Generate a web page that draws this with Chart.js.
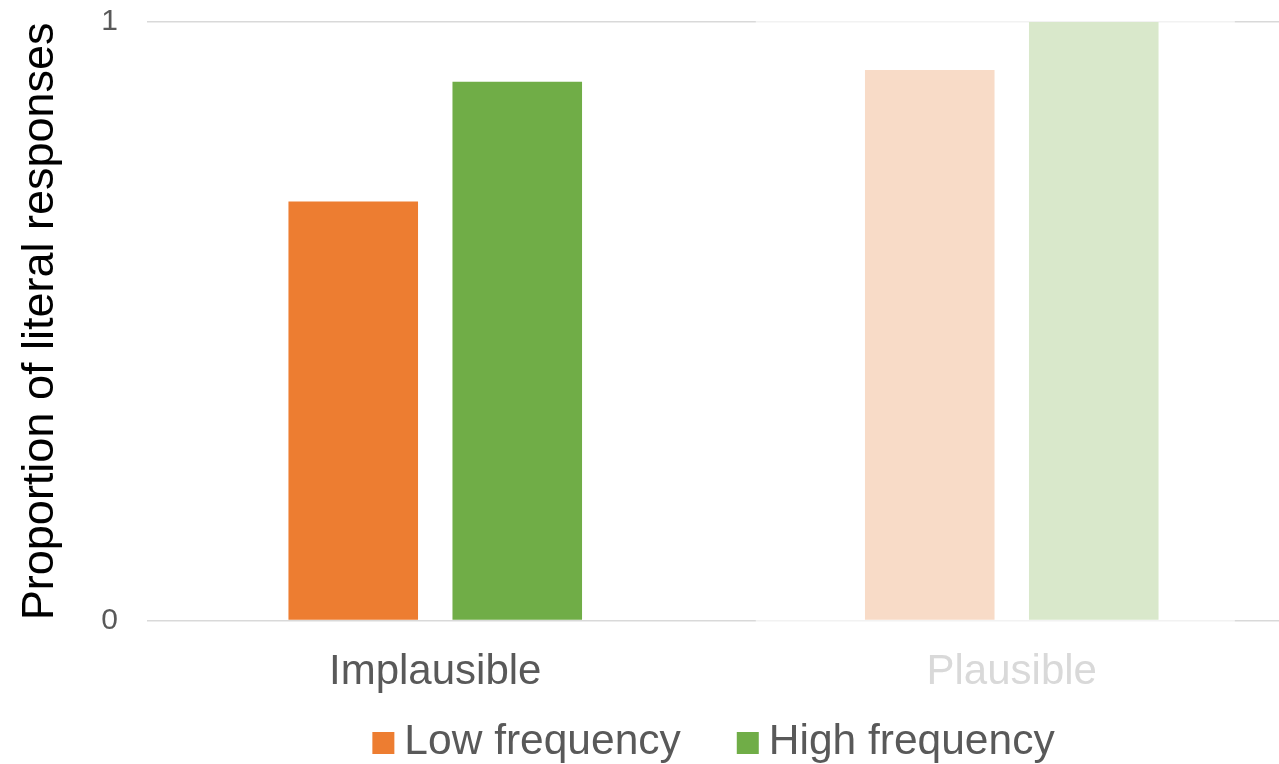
<!DOCTYPE html>
<html>
<head>
<meta charset="utf-8">
<script src="https://cdn.jsdelivr.net/npm/chart.js@4.4.1/dist/chart.umd.min.js"></script>
<style>
  html, body { margin: 0; padding: 0; background: #ffffff; overflow: hidden; }
  canvas { display: block; }
</style>
</head>
<body>
<canvas id="chart" width="1300" height="764"></canvas>
<script>
// Data
const categories = ['Implausible', 'Plausible'];
const lowFrequency = [0.70, 0.92];
const highFrequency = [0.90, 1.00];
const yTickValues = [0, 1];
const seriesNames = ['Low frequency', 'High frequency'];

// Colours: the Plausible group is shown muted
const lowColors = ['#ED7D31', '#F8DBC7'];
const highColors = ['#70AD47', '#D9E8CB'];
const categoryLabelColors = ['#595959', '#D9D9D9'];
const legendColors = ['#ED7D31', '#70AD47'];

const FONT = "'Liberation Sans', Arial, sans-serif";

// Whitens the gridlines behind the muted category
const muteBackdrop = {
  id: 'muteBackdrop',
  beforeDatasetsDraw(chart) {
    const { ctx, scales: { x, y } } = chart;
    const cw = x.getPixelForValue(1) - x.getPixelForValue(0);
    const cx = x.getPixelForValue(1);
    const top = y.getPixelForValue(1) - 3;
    const bottom = y.getPixelForValue(0) + 3;
    ctx.save();
    ctx.fillStyle = 'rgba(255,255,255,0.66)';
    ctx.fillRect(cx - 0.444 * cw, top, 0.831 * cw, bottom - top);
    ctx.restore();
  }
};

// Legend row below the category labels
const bottomLegend = {
  id: 'bottomLegend',
  afterDraw(chart) {
    const { ctx, chartArea } = chart;
    const box = 22, textGap = 10, itemGap = 56;
    ctx.save();
    ctx.font = `42.5px ${FONT}`;
    const widths = seriesNames.map(n => ctx.measureText(n).width);
    let total = 0;
    widths.forEach((w, i) => { total += box + textGap + w + (i < widths.length - 1 ? itemGap : 0); });
    const center = (chartArea.left + chartArea.right) / 2 - 10;
    let x = center - total / 2;
    const baseline = chart.height - 10;
    ctx.textBaseline = 'alphabetic';
    ctx.textAlign = 'left';
    seriesNames.forEach((name, i) => {
      ctx.fillStyle = legendColors[i];
      ctx.fillRect(x, baseline - box, box, box);
      ctx.fillStyle = '#595959';
      ctx.fillText(name, x + box + textGap, baseline);
      x += box + textGap + widths[i] + itemGap;
    });
    ctx.restore();
  }
};

new Chart(document.getElementById('chart'), {
  type: 'bar',
  data: {
    labels: categories,
    datasets: [
      {
        label: seriesNames[0],
        data: lowFrequency,
        backgroundColor: lowColors,
        borderWidth: 0,
        categoryPercentage: 0.569,
        barPercentage: 0.79
      },
      {
        label: seriesNames[1],
        data: highFrequency,
        backgroundColor: highColors,
        borderWidth: 0,
        categoryPercentage: 0.569,
        barPercentage: 0.79
      }
    ]
  },
  options: {
    responsive: false,
    animation: false,
    devicePixelRatio: 1,
    layout: { padding: { top: 22, bottom: 39, left: 0, right: 0 } },
    plugins: {
      legend: { display: false },
      tooltip: { enabled: false }
    },
    scales: {
      x: {
        grid: { display: false, drawTicks: false },
        border: { display: false },
        ticks: {
          padding: 27,
          color: ctx => categoryLabelColors[ctx.index],
          font: { family: FONT, size: 42 }
        }
      },
      y: {
        min: 0,
        max: 1,
        afterBuildTicks: s => { s.ticks = yTickValues.map(v => ({ value: v })); },
        afterFit: s => { s.width = 147; s.paddingTop = 0; s.paddingBottom = 0; },
        grid: { color: '#D9D9D9', lineWidth: 1.5, drawTicks: false },
        border: { display: false },
        ticks: {
          padding: 29,
          color: '#595959',
          font: { family: FONT, size: 30 }
        },
        title: {
          display: true,
          text: 'Proportion of literal responses',
          color: '#000000',
          font: { family: FONT, size: 45 },
          padding: { top: 14, bottom: 0 },
          align: 'center'
        }
      }
    }
  },
  plugins: [muteBackdrop, bottomLegend]
});
</script>
</body>
</html>
